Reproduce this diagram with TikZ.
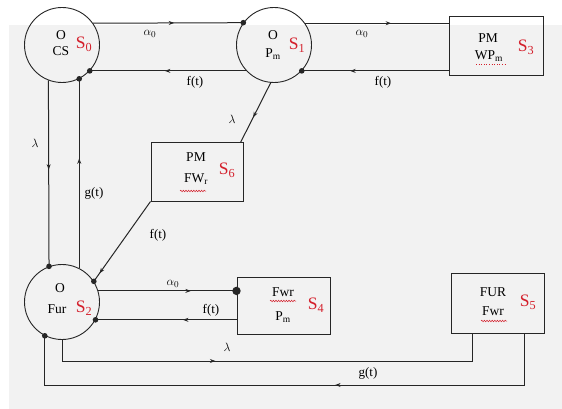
\documentclass[tikz,border=0pt]{standalone}
\usepackage{fontspec}
\setmainfont{Liberation Serif}
\usetikzlibrary{arrows.meta,decorations.markings,decorations.pathmorphing,calc}
\definecolor{bgray}{HTML}{F2F2F2}
\definecolor{sred}{HTML}{D4202C}
\definecolor{lnc}{HTML}{262626}
\begin{document}
\begin{tikzpicture}[x=1pt,y=-1pt,
  state/.style={circle,draw=lnc,line width=0.9pt,minimum size=75pt,inner sep=0pt},
  box/.style={rectangle,draw=lnc,line width=1pt,inner sep=0pt},
  txt/.style={inner sep=0pt,font=\fontsize{13.5}{15}\selectfont},
  slbl/.style={inner sep=0pt,text=sred,font=\fontsize{17.5}{19}\selectfont},
  elbl/.style={inner sep=0pt,font=\fontsize{13}{15}\selectfont},
  conn/.style={draw=lnc,line width=1pt},
  midarrow/.style={postaction={decorate},decoration={markings,mark=at position #1 with {\arrow{Stealth[length=5.5pt,width=4pt]}}}},
  dot/.style={fill=lnc},
  wavy/.style={draw=sred,line width=0.5pt,decorate,decoration={snake,amplitude=0.8pt,segment length=2.6pt}}
]
\useasboundingbox (0,0) rectangle (562,409);
\fill[bgray] (9,25) rectangle (562,409);

% states
\node[state] (s0) at (62,45) {};
\node[state] (s1) at (274,45) {};
\node[state] (s2) at (62,302) {};
\node[box,minimum width=94pt,minimum height=59pt] (s3) at (496,46.5) {};
\node[box,minimum width=92pt,minimum height=58pt] (s6) at (197,172) {};
\node[box,minimum width=93pt,minimum height=57pt] (s4) at (283.5,305.5) {};
\node[box,minimum width=93pt,minimum height=60pt] (s5) at (497.5,303) {};

% texts
\node[txt] (t0a) at (61,35) {O};
\node[txt] (t0b) at (61,51) {CS};
\node[slbl] (l0) at (84,44) {S\textsubscript{0}};
\node[txt] (t1a) at (273,35) {O};
\node[txt] (t1b) at (273,54) {P\textsubscript{m}};
\node[slbl] (l1) at (297,45) {S\textsubscript{1}};
\node[txt] (t2a) at (60,288) {O};
\node[txt] (t2b) at (57,309) {Fur};
\node[slbl] (l2) at (84,308) {S\textsubscript{2}};
\node[txt] (t3a) at (488,38) {PM};
\node[txt] (t3b) at (489,56) {WP\textsubscript{m}};
\node[slbl] (l3) at (526,47) {S\textsubscript{3}};
\node[txt] (t6a) at (196,157) {PM};
\node[txt] (t6b) at (196,179) {FW\textsubscript{r}};
\node[slbl] (l6) at (227,170) {S\textsubscript{6}};
\node[txt] (t4a) at (283,292) {Fwr};
\node[txt] (t4b) at (283,317) {P\textsubscript{m}};
\node[slbl] (l4) at (316,305) {S\textsubscript{4}};
\node[txt] (t5a) at (493,292) {FUR};
\node[txt] (t5b) at (493,311) {Fwr};
\node[slbl] (l5) at (528,302) {S\textsubscript{5}};

% spell-check underlines
\draw[draw=sred,line width=0.6pt,dotted] (476,64) -- (506,64);
\draw[wavy] (180,191) -- (206,191);
\draw[wavy] (270,301) -- (296,301);
\draw[wavy] (481,321) -- (507,321);

% auxiliary coordinates
\coordinate (s5a) at ($(s5.south west)+(22,0)$);
\coordinate (s5b) at ($(s5.south east)+(-20,0)$);
\coordinate (lamy) at (0,361);
\coordinate (gy) at (0,385);
\coordinate (s6c) at ($(s6.north east)+(-3,0)$);

% top connectors
\draw[conn,midarrow=0.54] (s0.35.9) -- (s1.144.1);
\draw[conn,midarrow=0.52] (s1.223.9) -- (s0.-43.9);
\draw[conn,midarrow=0.6] (s1.35.9) -- (s3.west |- s1.35.9);
\draw[conn,midarrow=0.67] (s3.west |- s1.-43.9) -- (s1.-43.9);
\fill[dot] (s1.144.1) circle (2.8pt);
\fill[dot] (s0.-43.9) circle (2.8pt);
\fill[dot] (s1.-43.9) circle (2.8pt);

% verticals S0 - S2
\draw[conn,midarrow=0.48] (s0.249.7) -- (s2.110.3);
\draw[conn,midarrow=0.58] (s2.63) -- (s0.297);
\fill[dot] (s2.110.3) circle (2.8pt);
\fill[dot] (s0.297) circle (2.8pt);

% diagonals
\draw[conn,midarrow=0.58] (s1.265) -- (s6c);
\draw[conn,midarrow=0.9] (s6.south west) -- (s2.33);
\fill[dot] (s2.33) circle (2.8pt);

% S2 - S4
\draw[conn,midarrow=0.67] (s2.17) -- (s4.west |- s2.17);
\draw[conn,midarrow=0.38] (s4.west |- s2.-28.7) -- (s2.-28.7);
\fill[dot] (s4.west |- s2.17) circle (4.2pt);
\fill[dot] (s2.-28.7) circle (2.8pt);

% bottom loops
\draw[conn,midarrow=0.38] (s2.south) -- (s2.south |- lamy) -- (s5a |- lamy) -- (s5a);
\draw[conn,midarrow=0.415] (s5b) -- (s5b |- gy) -- (s2.243 |- gy) -- (s2.243);
\fill[dot] (s2.243) circle (2.8pt);

% edge labels
\node[elbl] (a1) at (150,34) {$\alpha_0$};
\node[elbl] (f1) at (195,82) {f(t)};
\node[elbl] (a2) at (362,34) {$\alpha_0$};
\node[elbl] (f2) at (383,82) {f(t)};
\node[elbl] (la1) at (232,119) {$\lambda$};
\node[elbl] (la2) at (35,143) {$\lambda$};
\node[elbl] (g1) at (94,193) {g(t)};
\node[elbl] (f3) at (158,235) {f(t)};
\node[elbl] (a3) at (173,284) {$\alpha_0$};
\node[elbl] (f4) at (211,310) {f(t)};
\node[elbl] (la3) at (227,347) {$\lambda$};
\node[elbl] (g2) at (368,373) {g(t)};
\end{tikzpicture}
\end{document}
